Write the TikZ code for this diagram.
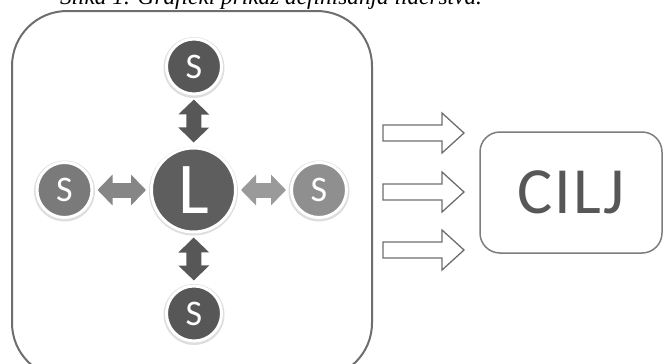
\documentclass[tikz,border=0pt]{standalone}
\usepackage{fontspec}
\setmainfont{Liberation Serif}
\newfontfamily\calfont{Carlito}
\usetikzlibrary{arrows.meta}
\definecolor{cdark}{HTML}{575757}
\definecolor{cmid}{HTML}{7A7A7A}
\definecolor{clead}{HTML}{5E5E5E}
\definecolor{clight}{HTML}{8F8F8F}
\definecolor{aleft}{HTML}{868686}
\definecolor{aright}{HTML}{9A9A9A}
\definecolor{frame}{HTML}{6E6E6E}
\begin{document}
\begin{tikzpicture}[x=1pt,y=-1pt,
  circ/.style={circle,draw=white,line width=3pt,text=white,inner sep=0pt,
    minimum size=55pt,font=\calfont\fontsize{36}{36}\selectfont},
  lead/.style={circ,minimum size=84pt,font=\calfont\fontsize{73}{73}\selectfont},
  dbl/.style={line width=15pt,{Triangle[width=30pt,length=15pt]}-{Triangle[width=30pt,length=15pt]},
    shorten <=4pt,shorten >=4pt},
  shadowc/.style={fill=black!13},
  blockarrow/.style={draw=frame,line width=1.3pt,fill=white,line join=miter},
  goal/.style={draw=frame!90,line width=1.5pt,rounded corners=20pt,minimum width=182pt,
    minimum height=121pt,text=cdark,font=\calfont\fontsize{66}{66}\selectfont\addfontfeatures{LetterSpace=3}}
]
\useasboundingbox (0,0) rectangle (664,364);
\clip (0,0) rectangle (664,364);
\node[anchor=base,font=\itshape\fontsize{23.3}{24}\selectfont] (title) at (271,5) {Slika 1. Grafički prikaz definisanja liderstva.};
\draw[frame,line width=2pt,rounded corners=55pt] (12,11) rectangle (372,378);
% shadows
\foreach \x/\y/\r in {194/66.5/30.5,64.5/190/30.5,319/190/30.5,194/313.5/30.5,193.5/190/44.5}
  \fill[shadowc] (\x,\y+1) circle (\r);
\node[lead,fill=clead] (L) at (193.5,190) {L};
\node[circ,fill=cdark] (st) at (194,66.5) {S};
\node[circ,fill=cmid] (sl) at (64.5,190) {S};
\node[circ,fill=clight] (sr) at (319,190) {S};
\node[circ,fill=cdark] (sb) at (194,313.5) {S};
\draw[dbl,cdark] (st) -- (L);
\draw[dbl,cdark] (L) -- (sb);
\draw[dbl,aleft] (sl) -- (L);
\draw[dbl,aright] (L) -- (sr);
\node[goal] (cilj) at (571,192.5) {CILJ};
\foreach \y in {133,192,250}
  \draw[blockarrow] (383,\y-8) -- (442,\y-8) -- (442,\y-20) -- (464,\y) -- (442,\y+20) -- (442,\y+8) -- (383,\y+8) -- cycle;
\end{tikzpicture}
\end{document}
